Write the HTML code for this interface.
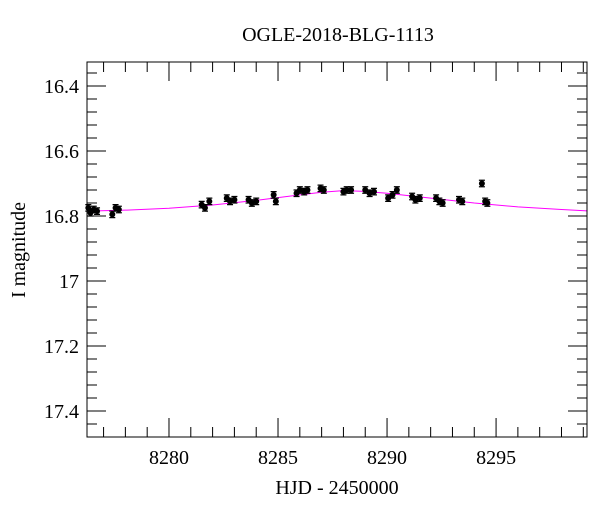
<!DOCTYPE html>
<html><head><meta charset="utf-8"><style>
body{margin:0;background:#fff}
svg text{font-family:"Liberation Serif",serif;fill:#000}
</style></head><body>
<svg id="c" width="600" height="512"></svg>
<script>
const days=[8276.3,8276.4,8276.55,8276.7,8277.4,8277.55,8277.7,8281.5,8281.65,8281.85,8282.65,8282.8,8283.0,8283.65,8283.8,8284.0,8284.8,8284.9,8285.85,8286.0,8286.2,8286.35,8286.95,8287.1,8288.0,8288.15,8288.35,8289.0,8289.2,8289.4,8290.05,8290.25,8290.45,8291.15,8291.3,8291.5,8292.25,8292.4,8292.55,8293.3,8293.45,8294.35,8294.5,8294.6];
const mags=[16.775,16.79,16.78,16.785,16.795,16.775,16.78,16.765,16.775,16.755,16.745,16.755,16.75,16.75,16.76,16.755,16.735,16.755,16.73,16.72,16.725,16.72,16.715,16.72,16.725,16.72,16.72,16.72,16.73,16.725,16.745,16.735,16.72,16.74,16.75,16.745,16.745,16.755,16.76,16.75,16.755,16.7,16.755,16.76];
const errs=days.map(()=>0.01);
const modelDays=[8276.24,8278,8280,8282,8284,8286,8287,8288,8289,8290,8292,8294,8296,8298,8299.17];
const modelMags=[16.785,16.782,16.776,16.766,16.752,16.735,16.727,16.722,16.724,16.73,16.745,16.76,16.772,16.78,16.784];
const xTicks=[8280,8285,8290,8295];
const yTicks=[16.4,16.6,16.8,17,17.2,17.4];
const L=87,R=587,T=62,B=437,x0=8276.24,x1=8299.17,y0=16.326,y1=17.48;
const sx=d=>L+(d-x0)/(x1-x0)*(R-L), sy=m=>T+(m-y0)/(y1-y0)*(B-T);
const svg=document.getElementById('c'),NS='http://www.w3.org/2000/svg';
function mk(t,a,p){const e=document.createElementNS(NS,t);for(const k in a)e.setAttribute(k,a[k]);(p||svg).appendChild(e);return e;}
let e;
e=mk('text',{x:338,y:41,'text-anchor':'middle','font-size':20});e.textContent='OGLE-2018-BLG-1113';


e=mk('polyline',{points:modelDays.map((d,i)=>sx(d)+','+sy(modelMags[i])).join(' '),fill:'none',stroke:'#ff00ff','stroke-width':1});


const g=mk('g',{});


days.forEach((d,i)=>{const x=sx(d),y=sy(mags[i]),ya=sy(mags[i]-errs[i]),yb=sy(mags[i]+errs[i]);
 const p=mk('path',{d:`M${x},${ya}V${yb}M${x-3},${ya}H${x+3}M${x-3},${yb}H${x+3}`,stroke:'#000','stroke-width':1.2},g);
 
 
 const c=mk('circle',{cx:x,cy:y,r:3,fill:'#000'},g);
 
 });
e=mk('rect',{x:L,y:T,width:R-L,height:B-T,fill:'none',stroke:'#000','stroke-width':1});


for(let d=8277;d<=8299;d++){const x=sx(d),len=d%5==0?19:10;
 mk('path',{d:`M${x},${B}v${-len}M${x},${T}v${len}`,stroke:'#000'});}
xTicks.forEach(d=>{e=mk('text',{x:sx(d),y:B+27,'text-anchor':'middle','font-size':20});e.textContent=d;
 
 });
for(let k=0;k<29;k++){const m=16.36+k*0.04,y=sy(m);if(y<T||y>B)continue;const r=Math.round(m*100)%20;const len=r==0?19:10;
 mk('path',{d:`M${L},${y}h${len}M${R},${y}h${-len}`,stroke:'#000'});}
yTicks.forEach(m=>{e=mk('text',{x:L-8,y:sy(m)+7,'text-anchor':'end','font-size':20});e.textContent=String(m);
 
 });
e=mk('text',{x:337,y:494,'text-anchor':'middle','font-size':20});e.textContent='HJD - 2450000';


e=mk('text',{x:25,y:250,'text-anchor':'middle','font-size':20,transform:'rotate(-90 25 250)'});e.textContent='I magnitude';


</script>
</body></html>
